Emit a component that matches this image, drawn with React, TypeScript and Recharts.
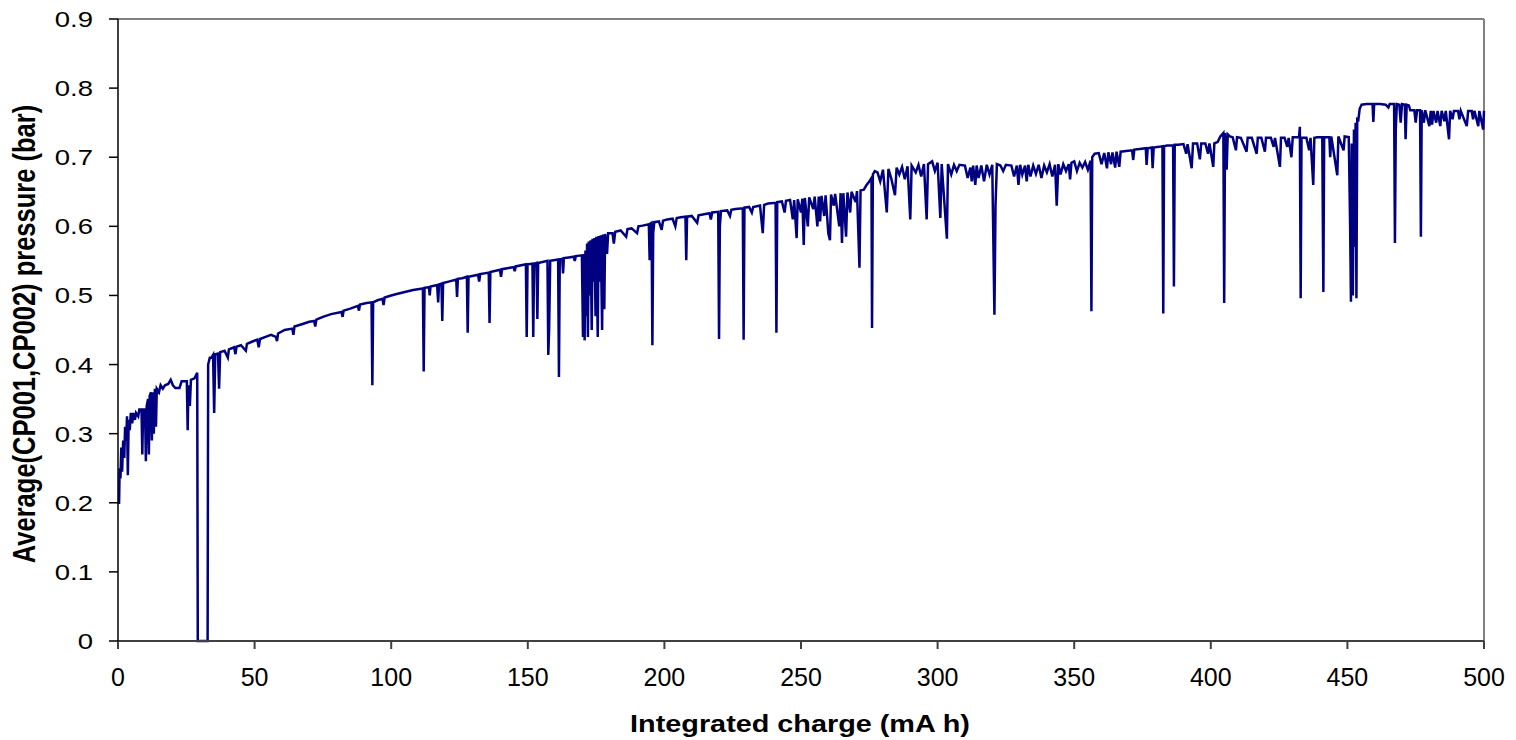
import { Line, LineChart, ReferenceLine, XAxis, YAxis } from "recharts";

// [charge (mA h), average pressure (bar)], split by stretch
const segStart: [number, number][] = [
  [0, 0.2], [0.4, 0.2], [0.6, 0.25], [0.9, 0.235], [1.2, 0.28], [1.5, 0.245], [1.9, 0.29], [2.3, 0.265],
  [2.6, 0.31], [3, 0.29], [3.3, 0.325], [3.6, 0.24], [3.9, 0.32], [4.3, 0.305], [4.7, 0.33], [5.2, 0.315],
  [5.6, 0.33], [6.2, 0.32], [6.6, 0.33], [7.4, 0.325], [7.8, 0.335], [8.6, 0.335], [8.9, 0.27], [9.2, 0.335],
  [9.9, 0.335], [10.2, 0.26], [10.5, 0.34], [11, 0.35], [11.3, 0.27], [11.6, 0.355], [12.1, 0.36], [12.4, 0.29],
  [12.7, 0.36], [13.1, 0.3], [13.5, 0.365], [13.9, 0.31], [14.2, 0.365], [15, 0.36], [15.6, 0.37], [16.4, 0.365],
  [17.2, 0.37], [18.4, 0.372], [19.3, 0.378], [20.1, 0.37], [21, 0.366], [22.5, 0.366], [23.3, 0.376],
  [25.2, 0.376], [25.5, 0.305], [25.8, 0.37], [26.3, 0.34], [26.7, 0.378], [28, 0.38], [29, 0.388],
  [29.2, 0], [32.8, 0], [33, 0.4], [33.6, 0.41], [34.2, 0.41],
];

const segEarly: [number, number][] = [
  [34.8, 0.414], [35.2, 0.33], [35.6, 0.415], [36.6, 0.416], [37, 0.365], [37.4, 0.418], [39, 0.42],
  [40.2, 0.41], [40.6, 0.422], [42.5, 0.425], [43, 0.415], [43.4, 0.426], [45, 0.428], [46.8, 0.42],
  [47.2, 0.43], [49, 0.433], [51, 0.436], [51.5, 0.425], [52, 0.437], [54, 0.44], [56, 0.443], [57.8, 0.44],
  [58.2, 0.434], [58.6, 0.445], [61, 0.45], [63.8, 0.452], [64.2, 0.443], [64.6, 0.455], [67, 0.458],
  [70, 0.462], [71.8, 0.463], [72.2, 0.455], [72.6, 0.465], [75, 0.469], [78, 0.473], [81.8, 0.476],
  [82.2, 0.469], [82.6, 0.478], [85, 0.481], [87.8, 0.485], [88.2, 0.478], [88.6, 0.487], [91, 0.489],
  [92.8, 0.49], [93.1, 0.37], [93.4, 0.49], [95, 0.493], [96.8, 0.495], [97.2, 0.486], [97.6, 0.497], [100, 0.5],
];

const segMiddle: [number, number][] = [
  [102, 0.502], [105, 0.505], [108, 0.508], [111.6, 0.51], [111.9, 0.39], [112.2, 0.511], [113.8, 0.512],
  [114.1, 0.5], [114.4, 0.513], [116.8, 0.515], [117.2, 0.49], [117.5, 0.516], [118.4, 0.517], [118.7, 0.463],
  [119, 0.518], [121, 0.52], [123.8, 0.523], [124.1, 0.498], [124.4, 0.524], [126, 0.525], [127.7, 0.527],
  [128, 0.446], [128.3, 0.527], [131.8, 0.53], [132.2, 0.52], [132.6, 0.531], [135.7, 0.533], [136, 0.46],
  [136.3, 0.534], [139.8, 0.537], [140.2, 0.527], [140.6, 0.538], [144.8, 0.541], [145.2, 0.535],
  [145.6, 0.542], [149.3, 0.545], [149.6, 0.44], [149.9, 0.545], [151.7, 0.546], [152, 0.44], [152.3, 0.546],
  [153.2, 0.547], [153.5, 0.466], [153.8, 0.547], [157.2, 0.55], [157.5, 0.414], [157.8, 0.45], [158.2, 0.55],
  [161.1, 0.552], [161.4, 0.382], [161.7, 0.552], [162.6, 0.553], [162.9, 0.532], [163.2, 0.554], [165, 0.555],
  [166.8, 0.556], [167.2, 0.55], [167.6, 0.557], [169.8, 0.558],
  [170.2, 0.44], [170.5, 0.56], [170.8, 0.435], [171.1, 0.565], [171.4, 0.47], [171.7, 0.575], [172, 0.44],
  [172.3, 0.578], [172.7, 0.5], [173, 0.58], [173.4, 0.45], [173.7, 0.582], [174.1, 0.52], [174.4, 0.583],
  [174.8, 0.47], [175.1, 0.585], [175.6, 0.44], [175.9, 0.586], [176.4, 0.52], [176.7, 0.587], [177.2, 0.45],
  [177.5, 0.588], [178, 0.48], [178.3, 0.589], [179, 0.56], [179.4, 0.59], [181, 0.59], [181.5, 0.575],
  [182, 0.592], [184, 0.594], [186, 0.585], [186.5, 0.596], [188, 0.597], [190, 0.59], [190.5, 0.6],
  [192, 0.601], [194.3, 0.603], [194.6, 0.551], [194.9, 0.604], [195.3, 0.605], [195.6, 0.428], [195.9, 0.59],
  [196.3, 0.606], [198, 0.607], [199, 0.595], [199.5, 0.608], [201, 0.61],
];

const segLater: [number, number][] = [
  [203, 0.611], [204, 0.6], [204.5, 0.612], [206, 0.613], [207.7, 0.614], [208, 0.551], [208.3, 0.614],
  [210, 0.615], [212, 0.605], [212.5, 0.616], [214, 0.617], [216.5, 0.619], [217, 0.61], [217.5, 0.62],
  [219.7, 0.621], [220, 0.437], [220.3, 0.6], [220.7, 0.622], [223, 0.623], [224, 0.615], [224.5, 0.624],
  [226, 0.625], [228.7, 0.626], [229, 0.436], [229.3, 0.627], [231, 0.628], [232, 0.62], [232.5, 0.628],
  [235, 0.63], [236, 0.59], [236.5, 0.631], [238, 0.633], [240.7, 0.634], [241, 0.446], [241.3, 0.635],
  [243, 0.636], [244, 0.62], [244.5, 0.637], [246, 0.638], [247, 0.61], [247.5, 0.638], [248.4, 0.583],
  [248.8, 0.639], [250, 0.62], [250.5, 0.64], [251, 0.573], [251.4, 0.641], [252.5, 0.6], [253, 0.642],
  [254.5, 0.625], [255, 0.643], [256, 0.6], [256.5, 0.643], [257, 0.607], [257.5, 0.644], [258.5, 0.615],
  [259, 0.645], [260, 0.59], [260.6, 0.58], [261, 0.646], [262, 0.63], [262.5, 0.647], [264, 0.6],
  [264.5, 0.648], [265, 0.576], [265.5, 0.648], [266.5, 0.585], [267, 0.649], [268, 0.62], [268.5, 0.65],
  [270, 0.635], [270.5, 0.651], [271.4, 0.54], [271.8, 0.652], [273, 0.653], [274, 0.66], [275, 0.665],
  [275.8, 0.67], [276, 0.453], [276.3, 0.675], [277, 0.68],
  [278, 0.678], [279, 0.665], [280, 0.682], [281.4, 0.62], [282, 0.683], [283, 0.67], [284.4, 0.645],
  [285, 0.685], [286, 0.675], [287, 0.686], [288, 0.668], [289, 0.687], [290, 0.61], [290.5, 0.688],
  [292, 0.678], [293, 0.689], [294, 0.672], [295, 0.69], [296, 0.61], [296.5, 0.69], [298, 0.694],
  [299, 0.68], [300, 0.692], [301, 0.612], [301.5, 0.69], [303.4, 0.582], [303.8, 0.69], [305, 0.675],
  [306, 0.689], [307, 0.68], [308, 0.689], [310, 0.688], [311, 0.67], [312, 0.685], [312.5, 0.665],
  [313, 0.688], [313.8, 0.66], [314.3, 0.688], [315, 0.67], [316, 0.688], [317, 0.665], [318, 0.689],
  [319, 0.675], [320, 0.689], [320.8, 0.472], [321.2, 0.63], [321.7, 0.69], [323, 0.688], [324, 0.68],
  [325, 0.689], [327, 0.688], [328, 0.672], [329, 0.688], [329.6, 0.66], [330.2, 0.689], [331, 0.675],
  [332, 0.688], [332.6, 0.665], [333.2, 0.689], [334, 0.672], [335, 0.688], [336, 0.676], [337, 0.689],
  [338, 0.67], [339, 0.688], [340, 0.678], [341, 0.69], [342, 0.672], [343, 0.689], [343.6, 0.63],
  [344.2, 0.69], [345, 0.675], [346, 0.69], [347, 0.68], [348, 0.69], [348.5, 0.668], [349, 0.692],
  [350, 0.694], [351, 0.68], [352, 0.692], [353, 0.685], [354, 0.693], [355, 0.682], [356, 0.695],
  [356.3, 0.477], [356.6, 0.7], [357.5, 0.705],
];

const segLate: [number, number][] = [
  [359, 0.706], [360, 0.69], [361, 0.706], [362, 0.684], [362.5, 0.707], [363.5, 0.69], [364, 0.707],
  [365, 0.685], [365.5, 0.708], [366.5, 0.686], [367, 0.708], [369, 0.709], [371.2, 0.71], [371.6, 0.696],
  [372, 0.711], [374, 0.712], [376.2, 0.713], [376.5, 0.689], [376.9, 0.713], [378.4, 0.714], [378.7, 0.684],
  [379.1, 0.714], [381, 0.715], [382.3, 0.716], [382.6, 0.474], [382.9, 0.716], [384, 0.717], [386.2, 0.717],
  [386.5, 0.513], [386.8, 0.718], [388, 0.718], [390, 0.719], [391, 0.705], [391.5, 0.719], [393, 0.684],
  [393.5, 0.72], [395, 0.72], [396, 0.697], [396.5, 0.72], [398, 0.72], [399, 0.705], [399.5, 0.72],
  [400.9, 0.686], [401.3, 0.72], [402.5, 0.722], [403.5, 0.73], [404.6, 0.735], [404.9, 0.489], [405.2, 0.735],
  [405.8, 0.682], [406.2, 0.733], [407, 0.73], [408, 0.729], [409.2, 0.71], [409.6, 0.729], [411, 0.728],
  [413.1, 0.708], [413.5, 0.728], [415, 0.728], [416.8, 0.705], [417.2, 0.728], [418.5, 0.728], [419.8, 0.708],
  [420.2, 0.728], [422, 0.728], [423, 0.715], [423.5, 0.728], [425.3, 0.686], [425.7, 0.728], [427, 0.728],
  [428, 0.715], [428.5, 0.728], [429.5, 0.7], [430, 0.729], [432.3, 0.729], [432.6, 0.744], [432.9, 0.496],
  [433.2, 0.728], [435, 0.728], [436, 0.71], [436.5, 0.728], [437.5, 0.66], [437.9, 0.728], [439, 0.729],
  [440.8, 0.729], [441.2, 0.505], [441.5, 0.729], [443.4, 0.729], [443.7, 0.7], [444.1, 0.73], [446.3, 0.674],
  [446.7, 0.73], [448.6, 0.71], [449, 0.73], [450.5, 0.729], [451, 0.6], [451.3, 0.491], [451.6, 0.72],
  [452, 0.5], [452.4, 0.74], [452.7, 0.57], [453, 0.75], [453.3, 0.496], [453.6, 0.755], [454, 0.754],
  [454.5, 0.77], [455.2, 0.776],
];

const segEnd: [number, number][] = [
  [457, 0.777], [459.2, 0.777], [459.5, 0.751], [459.8, 0.777], [462, 0.777], [464, 0.776], [465, 0.772],
  [465.5, 0.777], [467.1, 0.777], [467.4, 0.576], [467.7, 0.74], [468.1, 0.777], [469, 0.776], [469.5, 0.75],
  [470, 0.777], [471, 0.776], [471.3, 0.726], [471.7, 0.776], [472.5, 0.775], [473, 0.768], [474.5, 0.768],
  [475, 0.75], [475.5, 0.768], [476.6, 0.768], [476.9, 0.585], [477.2, 0.768], [478, 0.75], [478.5, 0.768],
  [480, 0.745], [480.5, 0.767], [481, 0.747], [481.5, 0.767], [482.5, 0.75], [483, 0.767], [484, 0.745],
  [484.5, 0.767], [485.5, 0.752], [486, 0.767], [487.2, 0.726], [487.6, 0.767], [488.5, 0.755], [489, 0.767],
  [490.5, 0.767], [491, 0.755], [491.5, 0.767], [493.7, 0.745], [494.2, 0.767], [495.5, 0.767], [496, 0.755],
  [496.5, 0.767], [497.9, 0.745], [498.3, 0.767], [499.7, 0.74], [500, 0.767],
];

const chargeTicks = [0, 50, 100, 150, 200, 250, 300, 350, 400, 450, 500];
const pressureTicks = [0, 0.1, 0.2, 0.3, 0.4, 0.5, 0.6, 0.7, 0.8, 0.9];

const data = [...segStart, ...segEarly, ...segMiddle, ...segLater, ...segLate, ...segEnd].map(
  ([charge, pressure]) => ({ charge, pressure })
);

const font = "'Liberation Sans', Arial, sans-serif";

function YTick(props: any) {
  const { x, y, payload } = props;
  return (
    <text
      transform={`translate(${x},${y}) scale(1.25,1)`}
      textAnchor="end"
      dominantBaseline="central"
      fontSize={22}
      fontFamily={font}
      fill="#000"
    >
      {String(payload.value)}
    </text>
  );
}

function XTick(props: any) {
  const { x, y, payload } = props;
  return (
    <text x={x} y={y} dy="0.71em" textAnchor="middle" fontSize={25} fontFamily={font} fill="#000">
      {String(payload.value)}
    </text>
  );
}

export default function App() {
  return (
    <div style={{ position: "absolute", left: 0, top: 0, width: 1516, height: 740, background: "#fff" }}>
      <LineChart width={1516} height={740} data={data} margin={{ top: 19, right: 32, left: 0, bottom: 0 }}>
        <XAxis
          dataKey="charge"
          type="number"
          domain={[0, 500]}
          ticks={chargeTicks}
          height={99}
          tick={<XTick />}
          tickSize={8}
          tickMargin={19}
          stroke="#404040"
          strokeWidth={2}
        />
        <YAxis
          type="number"
          domain={[0, 0.9]}
          ticks={pressureTicks}
          width={118}
          tick={<YTick />}
          tickSize={9}
          tickMargin={16}
          stroke="#000"
          strokeWidth={1.5}
        />
        <ReferenceLine y={0.9} stroke="#808080" strokeWidth={2} />
        <ReferenceLine x={500} stroke="#808080" strokeWidth={2} />
        <Line
          dataKey="pressure"
          type="linear"
          stroke="#000080"
          strokeWidth={2.5}
          dot={false}
          isAnimationActive={false}
        />
      </LineChart>
      <div
        style={{
          position: "absolute",
          left: 800,
          top: 724,
          transform: "translate(-50%, -50%) scale(1.2, 1)",
          fontFamily: font,
          fontWeight: "bold",
          fontSize: 24,
          whiteSpace: "nowrap",
          color: "#000",
        }}
      >
        Integrated charge (mA h)
      </div>
      <div
        style={{
          position: "absolute",
          left: 25,
          top: 334,
          transform: "translate(-50%, -50%) rotate(-90deg) scale(1, 1.2)",
          fontFamily: font,
          fontWeight: "bold",
          fontSize: 25.5,
          whiteSpace: "nowrap",
          color: "#000",
        }}
      >
        Average(CP001,CP002) pressure (bar)
      </div>
    </div>
  );
}
